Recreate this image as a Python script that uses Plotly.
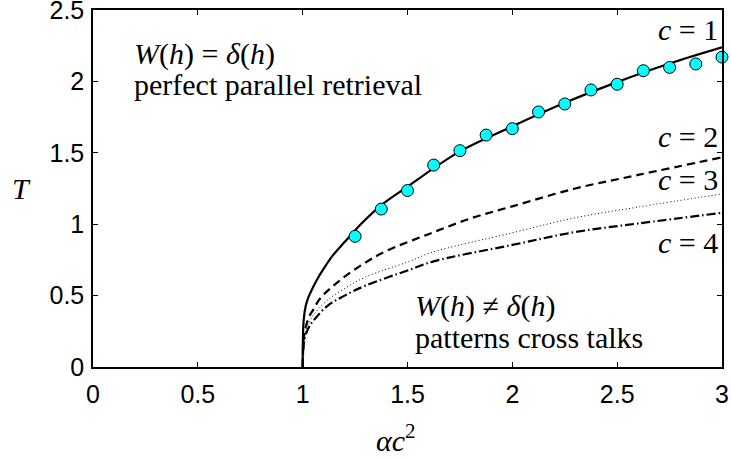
import plotly.graph_objects as go

# simulation points (c = 1)
sim_x = [1.25, 1.375, 1.5, 1.625, 1.75, 1.875, 2.0, 2.125, 2.25, 2.375, 2.5, 2.625, 2.75, 2.875, 3.0]
sim_y = [0.915, 1.106, 1.236, 1.414, 1.515, 1.624, 1.669, 1.786, 1.842, 1.94, 1.98, 2.075, 2.098, 2.122, 2.17]

# theory curves
c1_x = [1.0, 1.001, 1.005, 1.015, 1.029, 1.05, 1.077, 1.11, 1.14, 1.2, 1.283, 1.378, 1.49, 1.75, 2.0, 2.25, 2.5, 2.75, 3.0]
c1_y = [0.0, 0.18, 0.33, 0.43, 0.494, 0.56, 0.634, 0.71, 0.775, 0.875, 1.008, 1.137, 1.253, 1.51, 1.685, 1.85, 1.995, 2.125, 2.238]

c2_x = [1.0, 1.003, 1.01, 1.03, 1.05, 1.085, 1.172, 1.283, 1.395, 1.6, 1.8, 2.0, 2.3, 2.6, 3.0]
c2_y = [0.0, 0.15, 0.25, 0.35, 0.40, 0.483, 0.60, 0.716, 0.81, 0.93, 1.04, 1.125, 1.25, 1.345, 1.468]

c3_x = [1.0, 1.003, 1.01, 1.03, 1.06, 1.12, 1.2, 1.3, 1.51, 1.61, 2.0, 2.3, 2.6, 3.0]
c3_y = [0.0, 0.13, 0.22, 0.31, 0.38, 0.47, 0.55, 0.63, 0.74, 0.80, 0.94, 1.045, 1.12, 1.212]

c4_x = [1.0, 1.003, 1.01, 1.03, 1.06, 1.12, 1.2, 1.3, 1.51, 1.625, 2.0, 2.3, 2.6, 3.0]
c4_y = [0.0, 0.12, 0.20, 0.28, 0.34, 0.43, 0.50, 0.57, 0.681, 0.74, 0.855, 0.945, 1.005, 1.08]

x_ticks = [0, 0.5, 1, 1.5, 2, 2.5, 3]
x_tick_labels = ["0", "0.5", "1", "1.5", "2", "2.5", "3"]
y_ticks = [0, 0.5, 1, 1.5, 2, 2.5]
y_tick_labels = ["0", "0.5", "1", "1.5", "2", "2.5"]

serif = "Liberation Serif"
sans = "Liberation Sans"
TXT = 30

fig = go.Figure()
fig.add_trace(go.Scatter(x=c1_x, y=c1_y, mode="lines", line=dict(color="black", width=2.2, shape="spline"), cliponaxis=False))
fig.add_trace(go.Scatter(x=c2_x, y=c2_y, mode="lines", line=dict(color="black", width=2.2, dash="8px,5px", shape="spline"), cliponaxis=False))
fig.add_trace(go.Scatter(x=c3_x, y=c3_y, mode="lines", line=dict(color="black", width=1.0, dash="1px,2.5px", shape="spline"), cliponaxis=False))
fig.add_trace(go.Scatter(x=c4_x, y=c4_y, mode="lines", line=dict(color="black", width=2.2, dash="9px,3px,1.5px,3px", shape="spline"), cliponaxis=False))
fig.add_trace(go.Scatter(x=sim_x, y=sim_y, mode="markers",
                         marker=dict(symbol="circle", size=12, color="#00FFFF", line=dict(color="black", width=1)),
                         cliponaxis=False))

def ann(text, x, y, xanchor="left", size=TXT, xref="x", yref="y"):
    fig.add_annotation(text=text, x=x, y=y, xref=xref, yref=yref, showarrow=False,
                       xanchor=xanchor, yanchor="middle", font=dict(family=serif, size=size, color="black"))

ann("<i>W</i>(<i>h</i>) = <i>δ</i>(<i>h</i>)", 0.187, 2.19)
ann("perfect parallel retrieval", 0.187, 1.975)
ann("<i>W</i>(<i>h</i>) ≠ <i>δ</i>(<i>h</i>)", 1.527, 0.425)
ann("patterns cross talks", 1.527, 0.205)
ann("<i>c</i> = 1", 2.992, 2.36, xanchor="right")
ann("<i>c</i> = 2", 2.992, 1.617, xanchor="right")
ann("<i>c</i> = 3", 2.992, 1.316, xanchor="right")
ann("<i>c</i> = 4", 2.992, 0.87, xanchor="right")

# axis titles
ann("<i>T</i>", -0.113, 0.499, xanchor="center", xref="paper", yref="paper")
ann("<i>αc</i><sup>2</sup>", 0.482, -0.2, xanchor="center", xref="paper", yref="paper")

axis_common = dict(showgrid=False, zeroline=False, showline=True, linecolor="black", linewidth=1.5,
                   mirror="ticks", ticks="inside", ticklen=5, tickcolor="black", tickwidth=1,
                   ticklabeloverflow="allow", automargin=False,
                   tickfont=dict(family=sans, size=25, color="black"))

fig.update_layout(
    width=731, height=459,
    margin=dict(l=93, r=9, t=10, b=92, autoexpand=False),
    paper_bgcolor="white", plot_bgcolor="white",
    showlegend=False,
    xaxis=dict(range=[0, 3], tickvals=x_ticks, ticktext=x_tick_labels, ticklabelstandoff=4, **axis_common),
    yaxis=dict(range=[0, 2.5], tickvals=y_ticks, ticktext=y_tick_labels, ticklabelstandoff=2, **axis_common),
)

fig.write_html("out.html", config={"displayModeBar": False},
               post_script="document.body.style.margin='0px';")
